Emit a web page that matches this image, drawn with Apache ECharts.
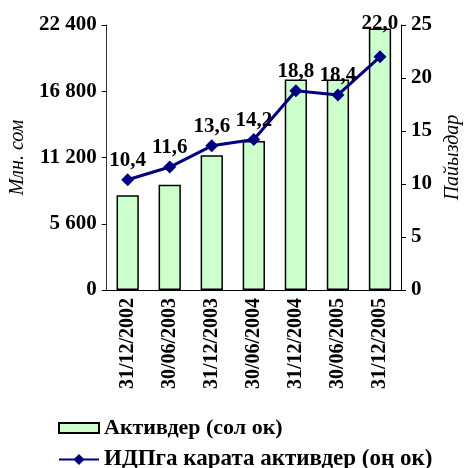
<!DOCTYPE html>
<html>
<head>
<meta charset="utf-8">
<script src="https://cdn.jsdelivr.net/npm/echarts@6/dist/echarts.min.js"></script>
<style>
  html, body { margin: 0; padding: 0; background: #fff; }
  #chart { width: 471px; height: 468px; }
</style>
</head>
<body>
<div id="chart"></div>
<script>
// даты отчётов
var dates = ['31/12/2002', '30/06/2003', '31/12/2003', '30/06/2004', '31/12/2004', '30/06/2005', '31/12/2005'];
// активы, млн сом (левая ось)
var assets = [8000, 8900, 11400, 12600, 17800, 17800, 22100];
// активы к ВВП, % (правая ось)
var assetsToGdp = [10.4, 11.6, 13.6, 14.2, 18.8, 18.4, 22.0];

var barName = 'Активдер (сол ок)';
var lineName = 'ИДПга карата активдер (оң ок)';
var font = '"Liberation Serif", "Times New Roman", serif';

function thousands(v) {
  return String(v).replace(/\B(?=(\d{3})+(?!\d))/g, ' ');
}

var chart = echarts.init(document.getElementById('chart'));
chart.setOption({
  animation: false,
  textStyle: { fontFamily: font, color: '#000' },
  grid: { left: 100, right: 68, top: 25, bottom: 178 },
  legend: [
    {
      left: 53, top: 412,
      itemWidth: 40, itemHeight: 10,
      textStyle: { fontFamily: font, fontWeight: 'bold', fontSize: 22, color: '#000' },
      data: [{ name: barName, icon: 'rect' }]
    },
    {
      left: 53, top: 443,
      itemWidth: 40, itemHeight: 14,
      textStyle: { fontFamily: font, fontWeight: 'bold', fontSize: 23, color: '#000' },
      data: [{ name: lineName }]
    }
  ],
  xAxis: {
    type: 'category',
    data: dates,
    axisLine: { lineStyle: { color: '#000', width: 1 } },
    axisTick: { length: 5, lineStyle: { color: '#000' } },
    axisLabel: {
      rotate: 90,
      margin: 8,
      fontFamily: font,
      fontWeight: 'bold',
      fontSize: 20,
      color: '#000'
    }
  },
  yAxis: [
    {
      type: 'value',
      min: 0,
      max: 22400,
      interval: 5600,
      name: 'Млн. сом',
      nameLocation: 'middle',
      nameRotate: 90,
      nameGap: 70,
      nameTextStyle: { fontFamily: font, fontStyle: 'italic', fontSize: 20, color: '#000' },
      axisLine: { show: true, lineStyle: { color: '#333' } },
      axisTick: { show: true, length: 5, lineStyle: { color: '#000' } },
      splitLine: { show: false },
      axisLabel: {
        margin: 10,
        fontFamily: font,
        fontWeight: 'bold',
        fontSize: 21,
        color: '#000',
        formatter: function (v) { return thousands(v); }
      }
    },
    {
      type: 'value',
      min: 0,
      max: 25,
      interval: 5,
      position: 'right',
      name: 'Пайыздар',
      nameLocation: 'middle',
      nameRotate: 90,
      nameGap: 42,
      nameTextStyle: { fontFamily: font, fontStyle: 'italic', fontSize: 20, color: '#000' },
      axisLine: { show: true, lineStyle: { color: '#000' } },
      axisTick: { show: true, length: 5, lineStyle: { color: '#000' } },
      splitLine: { show: false },
      axisLabel: {
        margin: 10,
        fontFamily: font,
        fontWeight: 'bold',
        fontSize: 21,
        color: '#000'
      }
    }
  ],
  series: [
    {
      name: barName,
      type: 'bar',
      yAxisIndex: 0,
      barWidth: '53%',
      data: assets,
      itemStyle: { color: '#CCFFCC', borderColor: '#000', borderWidth: 1.5 }
    },
    {
      name: lineName,
      type: 'line',
      yAxisIndex: 1,
      data: assetsToGdp.map(function (v, i) {
        var item = { value: v };
        if (i === assetsToGdp.length - 1) item.label = { offset: [0, -14] };
        return item;
      }),
      symbol: 'diamond',
      symbolSize: 13,
      lineStyle: { color: '#000080', width: 3 },
      itemStyle: { color: '#000080' },
      label: {
        show: true,
        position: 'top',
        distance: 2,
        fontFamily: font,
        fontWeight: 'bold',
        fontSize: 21,
        color: '#000',
        formatter: function (p) { return p.value.toFixed(1).replace('.', ','); }
      }
    }
  ]
});
</script>
</body>
</html>
